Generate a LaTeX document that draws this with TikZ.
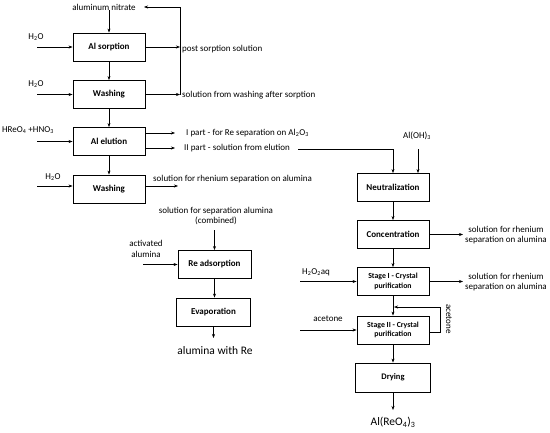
\documentclass[tikz,border=0pt]{standalone}
\usepackage{fontspec}
\setmainfont{Carlito}
\usetikzlibrary{arrows.meta,calc}
\begin{document}
\begin{tikzpicture}[x=1pt,y=-1pt,
  box/.style={draw,line width=0.9pt,minimum width=72pt,minimum height=28pt,inner sep=1pt,font=\fontsize{9}{10}\selectfont\bfseries,align=center},
  sbox/.style={box,font=\fontsize{7.8}{9.5}\selectfont\bfseries},
  lbl/.style={inner sep=0pt,font=\fontsize{9}{10.8}\selectfont,align=center},
  big/.style={inner sep=0pt,font=\fontsize{11.5}{13}\selectfont},
  arr/.style={-{Stealth[length=4pt,width=3pt]},line width=0.5pt},
  ln/.style={line width=0.5pt}]
\useasboundingbox (0,0) rectangle (550,432);

% ---------- left column ----------
\node[box] (sorp) at (109,47) {Al sorption};
\node[box] (wash1) at (109,94.5) {Washing};
\node[box] (elut) at (109,141.5) {Al elution};
\node[box] (wash2) at (109,189) {Washing};

\node[lbl] (nitrate) at (104,7) {aluminum nitrate};
\node[lbl] (h2oa) at (36,37) {H\textsubscript{2}O};
\node[lbl] (h2ob) at (36,84) {H\textsubscript{2}O};
\node[lbl] (acid) at (28,130) {HReO\textsubscript{4} +HNO\textsubscript{3}};
\node[lbl] (h2oc) at (53,177) {H\textsubscript{2}O};

\coordinate (ia) at (37,47);
\coordinate (ib) at (37,94.5);
\coordinate (ic) at (37,141.5);
\coordinate (id) at (37,186);
\draw[arr] (ia) -- (sorp.west);
\draw[arr] (ib) -- (wash1.west);
\draw[arr] (ic) -- (elut.west);
\draw[arr] (id) -- (id -| wash2.west);

\draw[arr] (sorp.north |- nitrate.south) -- (sorp.north);
\draw[arr] (sorp) -- (wash1);
\draw[arr] (wash1) -- (elut);
\draw[arr] (elut) -- (wash2);

% outputs of sorption / washing with recycle
\coordinate (fbtop) at (180,7);
\coordinate (fbbot) at (180,94.5);
\coordinate (fbtip) at (144,7);
\draw[arr] (sorp.east) -- (sorp.east -| fbtop);
\draw[arr] (wash1.east) -- (wash1.east -| fbtop);
\draw[arr] (fbbot) -- (fbtop) -- (fbtip);
\node[lbl,anchor=west] (post) at (182,49) {post sorption solution};
\node[lbl,anchor=west] (fromwash) at (182,95) {solution from washing after sorption};

% elution outputs
\coordinate (e1) at (146,133);
\coordinate (e2) at (146,148);
\coordinate (e1t) at (175,133);
\coordinate (e2t) at (175,148);
\draw[arr] (e1) -- (e1t);
\draw[arr] (e2) -- (e2t);
\node[lbl,anchor=west] (part1) at (186,133) {I part - for Re separation on Al\textsubscript{2}O\textsubscript{3}};
\node[lbl,anchor=west] (part2) at (184,148) {II part - solution from elution};

% washing 2 output
\coordinate (w2o) at (146,186);
\coordinate (w2t) at (178,186);
\draw[arr] (w2o) -- (w2t);
\node[lbl,anchor=west] (w2lbl) at (153,179) {solution for rhenium separation on alumina};

% ---------- right column ----------
\node[box] (neut) at (393,187.5) {Neutralization};
\node[box] (conc) at (393,234.5) {Concentration};
\node[sbox] (st1) at (393,281.5) {Stage I - Crystal\\purification};
\node[sbox] (st2) at (393,330) {Stage II - Crystal\\purification};
\node[box,minimum width=75pt,minimum height=29pt,font=\fontsize{8.5}{10}\selectfont\bfseries] (dry) at (393,377.5) {Drying};

\coordinate (iiline) at (298,149);
\draw[arr] (iiline) -- (iiline -| neut.north) -- (neut.north);
\node[lbl] (aloh) at (417,136) {Al(OH)\textsubscript{3}};
\coordinate (alohs) at (418,149);
\draw[arr] (alohs) -- (alohs |- neut.north);

\draw[arr] (neut) -- (conc);
\draw[arr] (conc) -- (st1);
\draw[arr] (st1) -- (st2);
\draw[arr] (st2) -- (dry);
\coordinate (prod) at (393,410);
\draw[arr] (dry.south) -- (prod);
\node[big] (alreo) at (393,422) {Al(ReO\textsubscript{4})\textsubscript{3}};

\coordinate (co) at (463,234.5);
\draw[arr] (conc.east) -- (co);
\node[lbl] (conclbl) at (506,235) {solution for rhenium\\separation on alumina};
\coordinate (so) at (463,281.5);
\draw[arr] (st1.east) -- (so);
\node[lbl] (st1lbl) at (506,282) {solution for rhenium\\separation on alumina};

\node[lbl] (h2o2) at (316,272) {H\textsubscript{2}O\textsubscript{2}aq};
\coordinate (h2o2s) at (300,281.5);
\draw[arr] (h2o2s) -- (st1.west);
\node[lbl] (acet) at (328,319) {acetone};
\coordinate (acs) at (300,330);
\draw[arr] (acs) -- (st2.west);

% acetone recycle loop
\coordinate (lpa) at (440,332);
\coordinate (lpb) at (440,307);
\coordinate (lpc) at (394,307);
\draw[arr] (lpa -| st2.east) -- (lpa) -- (lpb) -- (lpc);
\node[lbl,rotate=-90] (acetr) at (449,319) {acetone};

% ---------- middle ----------
\node[lbl] (comb) at (216,216) {solution for separation alumina\\(combined)};
\node[box,minimum width=73pt] (read) at (214.5,264.5) {Re adsorption};
\node[box,minimum width=74pt] (evap) at (213.5,312) {Evaporation};
\node[lbl] (act) at (146,249) {activated\\alumina};
\coordinate (combs) at (214.5,230);
\draw[arr] (combs) -- (read.north);
\coordinate (acts) at (143,264.5);
\draw[arr] (acts) -- (read.west);
\draw[arr] (read.south) -- (read.south |- evap.north);
\coordinate (evo) at (213.5,338);
\draw[arr] (evap.south) -- (evo);
\node[big] (alre) at (215,351) {alumina with Re};
\end{tikzpicture}
\end{document}
